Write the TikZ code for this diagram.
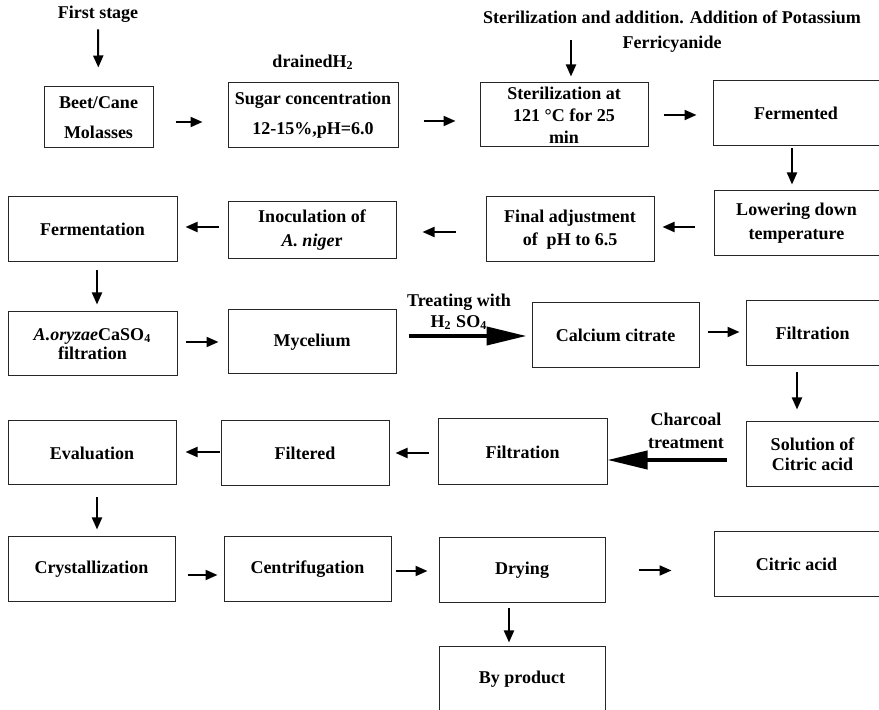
\documentclass[tikz,border=0pt]{standalone}
\usepackage{fontspec}
\setmainfont{Liberation Serif}
\usetikzlibrary{arrows.meta}

\tikzset{
  box/.style={draw=black!85, line width=0.5pt, align=center, inner sep=1pt,
    minimum width=84pt, minimum height=32.5pt},
  flow/.style={line width=1pt, -{Triangle[length=6pt,width=5pt]}},
  bigflow/.style={line width=2pt, -{Triangle[length=20pt,width=9pt]}},
}

\begin{document}
\begin{tikzpicture}[x=0.5pt, y=-0.5pt, font=\bfseries\fontsize{9}{11}\selectfont]
  \useasboundingbox (0,0) rectangle (879,710);
  % labels on top
  \node (first) at (98,14) {First stage};
  \node (drained) at (313,62) {drainedH\textsubscript{2}};
  \node[align=center] (addit) at (672,32) {Sterilization and addition. Addition of Potassium\\[1.5pt]Ferricyanide};
  \coordinate (addin) at (571,40);
  % row 1
  \node[box, minimum width=54.5pt, minimum height=30.5pt] (molasses) at (98.5,117.5) {Beet/Cane\\[4pt]Molasses};
  \node[box, minimum width=85pt] (sugar) at (313,115.5) {Sugar concentration\\[4pt]12-15\%,pH=6.0};
  \node[box, minimum height=32pt] (steril) at (564,115) {Sterilization at\\121 °C for 25\\min};
  \node[box, minimum width=83pt] (fermented) at (796,113.5) {Fermented};
  % row 2
  \node[box, minimum width=82.5pt] (lowering) at (796.5,223.5) {Lowering down\\[1pt]temperature};
  \node[box] (finaladj) at (570,229.5) {Final adjustment\\[0.5pt]of~ pH to 6.5};
  \node[box, minimum height=28.5pt] (inoc) at (312,230.5) {Inoculation of\\[1pt]\textit{A. nige}r};
  \node[box, minimum width=84.5pt] (fermentation) at (92.5,229.5) {Fermentation};
  % row 3
  \node[box, minimum width=84.5pt, minimum height=32pt] (oryzae) at (92.5,344) {\textit{A.oryzae}CaSO\textsubscript{4}\\[-1.5pt]filtration};
  \node[box, minimum height=32pt] (mycelium) at (312,342) {Mycelium};
  \node[box, minimum width=83.5pt] (calcium) at (615.5,335.5) {Calcium citrate};
  \node[box, minimum width=66.5pt] (filtA) at (812.5,333.5) {Filtration};
  \node[align=center] (treating) at (459,312) {Treating with\\[-0.5pt]H\textsubscript{2} SO\textsubscript{4}};
  % row 4
  \node[box, minimum width=66.5pt] (solution) at (812.5,454.5) {Solution of\\[-1pt]Citric acid};
  \node[box, minimum width=84.5pt, minimum height=33pt] (filtB) at (522.5,452) {Filtration};
  \node[box] (filtered) at (305,453.5) {Filtered};
  \node[box, minimum height=32pt] (evaluation) at (92,453) {Evaluation};
  \node[align=center] (charcoal) at (686,431) {Charcoal\\[0.5pt]treatment};
  % row 5
  \node[box, minimum width=83.5pt] (crystal) at (91.5,569.5) {Crystallization};
  \node[box, minimum width=83.5pt] (centrif) at (307.5,569.5) {Centrifugation};
  \node[box, minimum width=83pt] (drying) at (522,570.5) {Drying};
  \node[box, minimum width=82.5pt] (citric) at (796.5,564.5) {Citric acid};
  \node[box, minimum width=83pt] (byproduct) at (522,679.5) {By product};

  % connectors
  \draw[flow, shorten >=9.5pt] (first.south) -- (molasses.north);
  \draw[flow, shorten >=3pt] (addin) -- (addin |- steril.north);
  \draw[flow, shorten <=11pt, shorten >=12.5pt] ([yshift=-2.25pt]molasses.east) -- ([yshift=-2.25pt]molasses.east -| sugar.west);
  \draw[flow, shorten <=12.5pt, shorten >=12pt] ([yshift=-2.75pt]sugar.east) -- ([yshift=-2.75pt]sugar.east -| steril.west);
  \draw[flow, shorten <=7.5pt, shorten >=8pt] (steril.east) -- (steril.east -| fermented.west);
  \draw[flow, shorten <=1pt, shorten >=3pt] ([xshift=-2pt]fermented.south) -- ([xshift=-2pt]fermented.south |- lowering.north);
  \draw[flow, shorten <=9.5pt, shorten >=4pt] ([yshift=-1.75pt]lowering.west) -- ([yshift=-1.75pt]lowering.west -| finaladj.east);
  \draw[flow, shorten <=15pt, shorten >=13pt] ([yshift=-1.25pt]finaladj.west) -- ([yshift=-1.25pt]finaladj.west -| inoc.east);
  \draw[flow, shorten <=4.5pt, shorten >=4pt] ([yshift=1.75pt]inoc.west) -- ([yshift=1.75pt]inoc.west -| fermentation.east);
  \draw[flow, shorten <=4pt, shorten >=3.5pt] ([xshift=2.25pt]fermentation.south) -- ([xshift=2.25pt]fermentation.south |- oryzae.north);
  \draw[flow, shorten <=4pt, shorten >=4.5pt] ([yshift=1pt]oryzae.east) -- ([yshift=1pt]oryzae.east -| mycelium.west);
  \draw[bigflow, shorten <=6pt, shorten >=2.5pt] ([yshift=3pt]mycelium.east) -- ([yshift=3pt]mycelium.east -| calcium.west);
  \draw[flow, shorten <=4pt, shorten >=3pt] ([yshift=1.75pt]calcium.east) -- ([yshift=1.75pt]calcium.east -| filtA.west);
  \draw[flow, shorten <=3pt, shorten >=6pt] ([xshift=-7.75pt]filtA.south) -- ([xshift=-7.75pt]filtA.south |- solution.north);
  \draw[bigflow, shorten <=9.5pt] ([yshift=-2.75pt]solution.west) -- ([yshift=-2.75pt]solution.west -| filtB.east);
  \draw[flow, shorten <=4.5pt, shorten >=3pt] ([yshift=-0.5pt]filtB.west) -- ([yshift=-0.5pt]filtB.west -| filtered.east);
  \draw[flow, shorten <=0.5pt, shorten >=4.5pt] ([yshift=0.75pt]filtered.west) -- ([yshift=0.75pt]filtered.west -| evaluation.east);
  \draw[flow, shorten <=6pt, shorten >=3.5pt] ([xshift=2.5pt]evaluation.south) -- ([xshift=2.5pt]evaluation.south |- crystal.north);
  \draw[flow, shorten <=6pt, shorten >=3pt] ([yshift=-2.75pt]crystal.east) -- ([yshift=-2.75pt]crystal.east -| centrif.west);
  \draw[flow, shorten <=2pt, shorten >=5.5pt] ([yshift=-0.75pt]centrif.east) -- ([yshift=-0.75pt]centrif.east -| drying.west);
  \draw[flow, shorten <=16.5pt, shorten >=21pt] (drying.east) -- (drying.east -| citric.west);
  \draw[flow, shorten <=2.5pt, shorten >=2pt] ([xshift=-6.5pt]drying.south) -- ([xshift=-6.5pt]drying.south |- byproduct.north);
\end{tikzpicture}
\end{document}
